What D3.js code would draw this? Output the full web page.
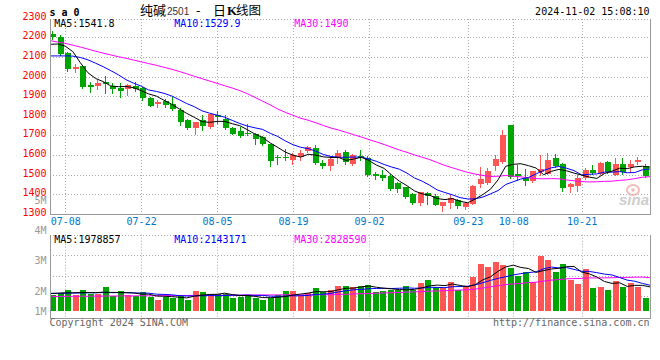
<!DOCTYPE html>
<html><head><meta charset="utf-8">
<script src="https://cdn.jsdelivr.net/npm/d3@7"></script>
<style>body{margin:0;background:#fff}svg{display:block}</style>
</head><body>
<svg id="c" width="660" height="360"></svg>
<script>
// ---------- data ----------
const dates = ["07-04","07-05","07-08","07-09","07-10","07-11","07-12","07-15","07-16","07-17","07-18","07-19","07-22","07-23","07-24","07-25","07-26","07-29","07-30","07-31",
"08-01","08-02","08-05","08-06","08-07","08-08","08-09","08-12","08-13","08-14","08-15","08-16","08-19","08-20","08-21","08-22","08-23","08-26","08-27","08-28","08-29","08-30",
"09-02","09-03","09-04","09-05","09-06","09-09","09-10","09-11","09-12","09-13","09-18","09-19","09-20","09-23","09-24","09-25","09-26","09-27","09-30",
"10-08","10-09","10-10","10-11","10-14","10-15","10-16","10-17","10-18","10-21","10-22","10-23","10-24","10-25","10-28","10-29","10-30","10-31","11-01"];
const open  = [2217,2203,2122,2038,2053,1956,1953,1970,1953,1939, 1934,1951,1939,1888,1859,1876,1859,1828,1777,1735, 1777,1743,1806,1782,1738,1723,1712,1709,1692,1655, 1590,1590,1576,1590,1619,1637,1559,1544,1585,1615, 1556,1593,1586,1501,1499,1493,1457,1436,1402,1355, 1407,1389,1339,1356,1372,1334,1351,1450,1459,1544, 1564,1752,1501,1482,1467,1513,1505,1585,1552,1436, 1441,1484,1522,1501,1564,1499,1552,1539,1564,1544];
const high  = [2232,2210,2125,2062,2055,1972,1982,2002,1965,1965, 1960,1973,1948,1893,1880,1883,1893,1837,1782,1769, 1803,1811,1825,1806,1743,1740,1760,1714,1695,1658, 1598,1632,1610,1624,1644,1649,1573,1590,1624,1627, 1607,1624,1593,1513,1522,1504,1462,1436,1407,1411, 1411,1403,1360,1394,1377,1360,1445,1539,1533,1598, 1726,1752,1547,1530,1516,1598,1610,1603,1561,1459, 1496,1533,1547,1564,1568,1585,1585,1573,1590,1556];
const low   = [2193,2111,2030,2021,1943,1922,1934,1914,1917,1893, 1905,1927,1880,1849,1842,1845,1828,1752,1730,1709, 1726,1735,1762,1734,1706,1689,1700,1658,1653,1544, 1556,1576,1556,1576,1615,1556,1535,1522,1559,1556, 1547,1573,1491,1479,1474,1423,1411,1382,1351,1346, 1348,1343,1314,1329,1329,1322,1348,1436,1453,1522, 1559,1484,1470,1448,1462,1496,1501,1539,1416,1411, 1416,1479,1501,1501,1508,1496,1501,1513,1556,1487];
const close = [2200,2115,2038,2048,1948,1948,1968,1960,1936,1927, 1956,1934,1888,1849,1871,1854,1832,1769,1735,1769, 1747,1811,1791,1738,1709,1697,1705,1680,1655,1569, 1583,1583,1598,1612,1641,1559,1542,1581,1612,1564, 1598,1586,1496,1494,1482,1428,1428,1385,1355,1411, 1389,1346,1360,1380,1339,1355,1441,1476,1516,1578, 1701,1487,1493,1467,1516,1530,1573,1544,1433,1453, 1482,1522,1510,1559,1513,1556,1513,1556,1573,1493];
const ma5  = [2164,2166,2155,2127,2070,2019,1990,1974,1952,1948, 1949,1943,1928,1911,1900,1879,1859,1835,1812,1792, 1770,1766,1771,1771,1759,1749,1728,1706,1689,1661, 1638,1614,1598,1589,1603,1599,1590,1587,1587,1572, 1579,1588,1571,1548,1531,1497,1466,1443,1416,1401, 1394,1377,1372,1377,1363,1356,1375,1398,1425,1473, 1542,1552,1555,1545,1533,1499,1516,1526,1519,1507, 1497,1487,1480,1505,1517,1532,1530,1539,1542,1538];
const ma10 = [2105,2105,2105,2104,2097,2085,2068,2050,2030,2009, 1984,1966,1951,1931,1924,1914,1901,1882,1862,1846, 1825,1813,1803,1792,1776,1760,1747,1738,1730,1710, 1694,1671,1652,1639,1632,1619,1602,1592,1588,1588, 1589,1589,1579,1567,1551,1538,1527,1507,1482,1466, 1445,1421,1408,1396,1382,1375,1376,1385,1401,1418, 1449,1463,1477,1485,1503,1521,1534,1541,1532,1520, 1498,1501,1503,1512,1512,1515,1509,1510,1524,1528];
const ma30 = [2183,2176,2169,2160,2150,2140,2129,2119,2110,2101, 2093,2084,2075,2066,2057,2047,2037,2026,2014,2001, 1989,1977,1965,1953,1941,1928,1912,1893,1874,1855, 1834,1817,1802,1787,1777,1764,1750,1737,1727,1715, 1703,1691,1678,1666,1653,1639,1625,1613,1600,1588, 1576,1561,1546,1534,1522,1511,1502,1495,1490,1491, 1495,1491,1488,1483,1479,1478,1479,1478,1472,1468, 1464,1462,1463,1465,1466,1470,1473,1479,1486,1489];
// volume, million lots
const volume = [1.32,1.49,1.74,1.32,1.74,1.38,1.38,1.98,1.24,1.65, 1.32,1.24,1.57,1.18,0.91,1.18,1.10,1.32,0.91,1.65, 1.57,1.38,1.38,1.38,1.10,1.18,1.32,1.05,0.91,1.05, 1.32,1.65,1.65,1.32,1.46,1.93,1.60,1.74,2.07,2.07, 1.98,2.07,2.15,1.55,1.65,1.74,1.74,2.07,1.74,2.31, 2.56,2.01,1.88,2.40,1.71,2.07,2.83,3.88,3.64,4.05, 3.80,3.58,2.92,3.22,2.42,4.57,4.21,3.22,3.88,2.54, 2.23,3.47,1.93,2.01,1.74,2.48,2.01,2.34,2.01,1.10];
const volMa5  = [1.45,1.47,1.50,1.51,1.52,1.53,1.51,1.56,1.54,1.53, 1.51,1.49,1.40,1.39,1.24,1.22,1.19,1.14,1.08,1.23, 1.31,1.37,1.38,1.47,1.36,1.28,1.27,1.21,1.11,1.10, 1.13,1.20,1.32,1.40,1.48,1.60,1.59,1.61,1.76,1.88, 1.89,1.99,2.07,1.96,1.88,1.83,1.77,1.75,1.79,1.92, 2.08,2.14,2.10,2.23,2.11,2.01,2.18,2.58,2.83,3.29, 3.64,3.79,3.60,3.51,3.19,3.34,3.47,3.53,3.66,3.68, 3.22,3.07,2.81,2.44,2.28,2.33,2.03,2.12,2.12,1.99];
const volMa10 = [1.45,1.46,1.47,1.48,1.49,1.50,1.51,1.52,1.52,1.52, 1.52,1.50,1.48,1.47,1.39,1.37,1.34,1.27,1.24,1.24, 1.26,1.28,1.26,1.28,1.30,1.30,1.32,1.29,1.29,1.23, 1.21,1.23,1.26,1.26,1.29,1.37,1.39,1.46,1.58,1.68, 1.75,1.79,1.84,1.86,1.88,1.86,1.88,1.91,1.88,1.90, 1.96,1.95,1.93,2.01,2.02,2.05,2.16,2.34,2.53,2.70, 2.83,2.98,3.09,3.17,3.24,3.49,3.63,3.56,3.59,3.44, 3.28,3.27,3.17,3.05,2.98,2.77,2.55,2.46,2.28,2.13];
const volMa30 = [1.20,1.20,1.21,1.21,1.22,1.22,1.23,1.23,1.24,1.24, 1.25,1.25,1.26,1.26,1.27,1.27,1.28,1.28,1.28,1.29, 1.29,1.30,1.30,1.30,1.31,1.31,1.32,1.32,1.33,1.33, 1.33,1.34,1.33,1.33,1.32,1.34,1.35,1.34,1.37,1.38, 1.41,1.43,1.45,1.47,1.49,1.51,1.53,1.56,1.58,1.60, 1.64,1.66,1.68,1.71,1.73,1.76,1.81,1.90,2.00,2.10, 2.18,2.24,2.28,2.35,2.38,2.47,2.55,2.60,2.66,2.68, 2.69,2.74,2.73,2.74,2.75,2.77,2.78,2.79,2.80,2.76];
const priceTicks = [1300,1400,1500,1600,1700,1800,1900,2000,2100,2200,2300];
const dateTicks = ["07-08","07-22","08-05","08-19","09-02","09-23","10-08","10-21"];
const volTickValues = [5,4,3,2,1];
const volTickLabels = ["5M","4M","3M","2M","1M"];
const priceHeader = [["MA5:1541.8","#000"],["MA10:1529.9","#0000ff"],["MA30:1490","#ff00ff"]];
const volHeader = [["MA5:1978857","#000"],["MA10:2143171","#0000ff"],["MA30:2828590","#ff00ff"]];

// ---------- layout ----------
const L = 50, R = 650, pTop = 19, pBot = 213.7, vTop = 234.7, vBase = 311, vBot = 318.3;
const RED = "#ff5555", GREEN = "#00a600", GRID = "#aaa", AXIS = "#999";
const MONO = "DejaVu Sans Mono, monospace";
const n = dates.length;
const svg = d3.select("#c");

const xBand = d3.scaleBand().domain(d3.range(n)).range([L, R]).padding(0);
const xLine = d3.scaleLinear().domain([0, n - 1]).range([L, R]);
const y = d3.scaleLinear().domain([1300, 2300]).range([pBot, 17.7]);
const vy = d3.scaleLinear().domain([0, 6.3]).range([vBase, vBase - 6.3 * 12.1]);
const volLabelY = d3.scaleLinear().domain([3.5, 2]).range([245.5, 290.9]);

const px = v => Math.round(v) + 0.5;
const up = i => close[i] >= open[i];

// ---------- gridlines ----------
const g = svg.append("g");
// horizontal price grid
g.selectAll(".hg").data(priceTicks.filter(p => p > 1300 && p < 2300)).join("line")
  .attr("x1", L).attr("x2", R).attr("y1", d => px(y(d))).attr("y2", d => px(y(d)))
  .attr("stroke", GRID).attr("stroke-dasharray", "1,2");
// price top border
g.append("line").attr("x1", L).attr("x2", R).attr("y1", px(pTop)).attr("y2", px(pTop))
  .attr("stroke", GRID).attr("stroke-dasharray", "1,2");
// volume grid
[vTop, 255.3, 275.7, 296.1].forEach(yy => g.append("line").attr("x1", L).attr("x2", R)
  .attr("y1", px(yy)).attr("y2", px(yy)).attr("stroke", GRID).attr("stroke-dasharray", "1,2"));
// vertical grid
const tickIdx = dateTicks.map(d => dates.indexOf(d));
g.selectAll(".vg").data(tickIdx).join("line")
  .attr("x1", d => px(xLine(d))).attr("x2", d => px(xLine(d)))
  .attr("y1", pTop).attr("y2", pBot).attr("stroke", GRID).attr("stroke-dasharray", "1,2");
g.selectAll(".vg2").data(tickIdx).join("line")
  .attr("x1", d => px(xLine(d))).attr("x2", d => px(xLine(d)))
  .attr("y1", vTop).attr("y2", vBot).attr("stroke", GRID).attr("stroke-dasharray", "1,2");

// ---------- watermark ----------
const wm = svg.append("g").attr("opacity", 0.75);
wm.append("ellipse").attr("cx", 633).attr("cy", 190).attr("rx", 6).attr("ry", 5)
  .attr("fill", "none").attr("stroke", "#f3a3a3").attr("stroke-width", 2);
wm.append("circle").attr("cx", 633).attr("cy", 190).attr("r", 1.8).attr("fill", "#f3a3a3");
wm.append("text").attr("x", 619).attr("y", 205).attr("font-family", "Liberation Sans, sans-serif")
  .attr("font-size", 15).attr("font-style", "italic").attr("font-weight", "bold")
  .attr("fill", "#bdbdbd").text("sina");

// ---------- candles ----------
const bodyX = i => Math.floor(xBand(i) + xBand.bandwidth() / 2) - 3;
const cg = svg.append("g").attr("shape-rendering", "crispEdges");
cg.selectAll(".wick").data(d3.range(n)).join("line")
  .attr("x1", i => bodyX(i) + 2.5).attr("x2", i => bodyX(i) + 2.5)
  .attr("y1", i => Math.round(y(high[i]))).attr("y2", i => Math.round(y(low[i])) + 1)
  .attr("stroke", i => up(i) ? RED : GREEN);
cg.selectAll(".body").data(d3.range(n)).join("rect")
  .attr("x", i => bodyX(i)).attr("width", 6)
  .attr("y", i => Math.round(y(Math.max(open[i], close[i]))))
  .attr("height", i => Math.max(1, Math.round(y(Math.min(open[i], close[i]))) - Math.round(y(Math.max(open[i], close[i])))))
  .attr("fill", i => up(i) ? RED : GREEN);

// ---------- volume bars ----------
cg.selectAll(".vol").data(d3.range(n)).join("rect")
  .attr("x", i => bodyX(i)).attr("width", 6)
  .attr("y", i => Math.round(vy(volume[i])))
  .attr("height", i => vBase - Math.round(vy(volume[i])))
  .attr("fill", i => up(i) ? RED : GREEN);

// ---------- MA lines ----------
const lineP = arr => d3.line().x((d, i) => xLine(i)).y(d => y(d))(arr);
const lineV = arr => d3.line().x((d, i) => xLine(i)).y(d => vy(d))(arr);
[[ma30, "#ff00ff"], [ma10, "#0000ff"], [ma5, "#000"]].forEach(([a, c]) =>
  svg.append("path").attr("d", lineP(a)).attr("fill", "none").attr("stroke", c).attr("stroke-width", 1));
[[volMa30, "#ff00ff"], [volMa10, "#0000ff"], [volMa5, "#000"]].forEach(([a, c]) =>
  svg.append("path").attr("d", lineV(a)).attr("fill", "none").attr("stroke", c).attr("stroke-width", 1));

// ---------- borders ----------
const b = svg.append("g").attr("stroke", AXIS).attr("shape-rendering", "crispEdges");
b.append("line").attr("x1", L + 0.5).attr("x2", L + 0.5).attr("y1", pTop).attr("y2", pBot);
b.append("line").attr("x1", R + 0.5).attr("x2", R + 0.5).attr("y1", pTop).attr("y2", pBot);
b.append("line").attr("x1", L).attr("x2", R + 1).attr("y1", px(pBot)).attr("y2", px(pBot));
b.append("line").attr("x1", L + 0.5).attr("x2", L + 0.5).attr("y1", vTop).attr("y2", vBot);
b.append("line").attr("x1", R + 0.5).attr("x2", R + 0.5).attr("y1", vTop).attr("y2", vBot);
b.append("line").attr("x1", L).attr("x2", R + 1).attr("y1", px(vBot)).attr("y2", px(vBot));

// ---------- texts ----------
const T = svg.append("g").attr("font-family", MONO).attr("font-size", 10);
T.selectAll(".pl").data(priceTicks).join("text")
  .attr("x", 46.5).attr("y", d => y(d) + 2).attr("text-anchor", "end").attr("fill", "#ff0000").text(d => d);
T.selectAll(".vl").data(volTickValues).join("text")
  .attr("x", 46.5).attr("y", d => Math.min(volLabelY(d), vBase) + 3.6).attr("text-anchor", "end")
  .attr("fill", "#999").text((d, i) => volTickLabels[i]);
T.selectAll(".dl").data(tickIdx).join("text")
  .attr("x", d => xLine(d) + 0.5).attr("y", 225).attr("text-anchor", "middle")
  .attr("fill", "#0077cc").text(d => dates[d]);
[54.3, 174.3, 294.3].forEach((xx, k) => {
  T.append("text").attr("x", xx).attr("y", 27.2).attr("fill", priceHeader[k][1]).text(priceHeader[k][0]);
  T.append("text").attr("x", xx).attr("y", 242.6).attr("fill", volHeader[k][1]).text(volHeader[k][0]);
});
T.append("text").attr("x", 649.5).attr("y", 15).attr("text-anchor", "end").attr("fill", "#000").text("2024-11-02 15:08:10");
T.append("text").attr("x", 49.5).attr("y", 15.6).attr("font-weight", "bold").attr("fill", "#000").text("s a 0");
T.append("text").attr("x", 49.5).attr("y", 325.5).attr("fill", "#666").text("Copyright 2024 SINA.COM");
T.append("text").attr("x", 649.5).attr("y", 325.5).attr("text-anchor", "end").attr("fill", "#666").text("http://finance.sina.com.cn");

// title
const CJK = "Noto Sans CJK SC, sans-serif";
svg.append("text").attr("x", 140).attr("y", 15).attr("font-family", CJK).attr("font-size", 13).attr("fill", "#000").text("纯碱");
svg.append("text").attr("x", 167).attr("y", 15).attr("font-family", "Liberation Sans, sans-serif").attr("font-size", 10).attr("fill", "#333").text("2501");
svg.append("text").attr("x", 196).attr("y", 15).attr("font-family", CJK).attr("font-size", 13).attr("fill", "#000").text("-");
svg.append("text").attr("x", 213).attr("y", 15).attr("font-family", CJK).attr("font-size", 13).attr("fill", "#000").text("日");
svg.append("text").attr("x", 227).attr("y", 15).attr("font-family", "Liberation Serif, serif").attr("font-size", 13).attr("font-weight", "bold").attr("fill", "#000").text("K");
svg.append("text").attr("x", 236).attr("y", 15).attr("font-family", CJK).attr("font-size", 12.5).attr("fill", "#000").text("线图");
</script>
</body></html>
